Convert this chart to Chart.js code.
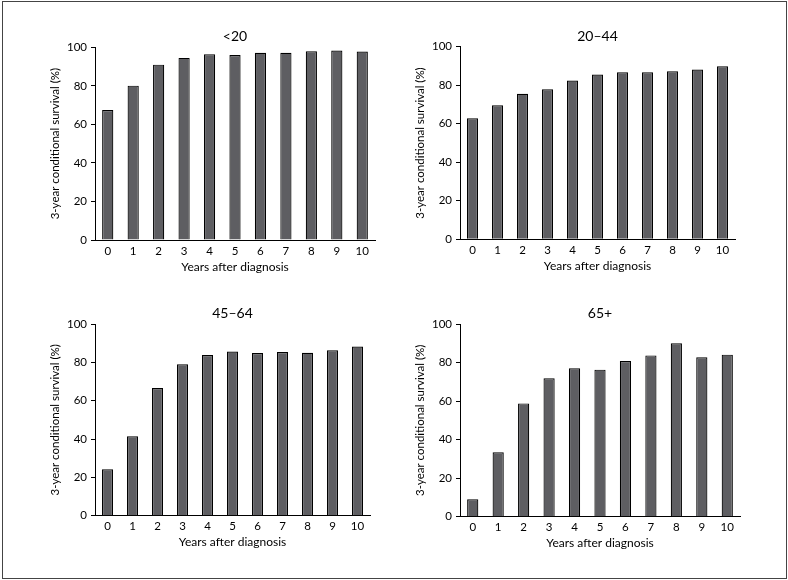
<!DOCTYPE html>
<html>
<head>
<meta charset="utf-8">
<script src="https://cdn.jsdelivr.net/npm/chart.js@4.4.1/dist/chart.umd.min.js"></script>
<style>
  html, body { margin: 0; padding: 0; background: #fff; }
  #wrap { position: relative; width: 788px; height: 580px; overflow: hidden; }
  #frame { position: absolute; left: 2px; top: 1px; width: 783px; height: 576px; border: 1px solid #444; }
  canvas { position: absolute; left: 0; top: 0; }
</style>
</head>
<body>
<div id="wrap">
  <div id="frame"></div>
  <canvas id="c0" width="788" height="580"></canvas>
  <canvas id="c1" width="788" height="580"></canvas>
  <canvas id="c2" width="788" height="580"></canvas>
  <canvas id="c3" width="788" height="580"></canvas>
</div>
<script>
// ---- data ----
const years = ['0', '1', '2', '3', '4', '5', '6', '7', '8', '9', '10'];
const ageGroups = ['<20', '20–44', '45–64', '65+'];
const survUnder20 = [67.5, 80.1, 91.0, 94.5, 96.4, 96.0, 97.2, 97.2, 97.9, 98.3, 97.8];
const surv20to44 = [62.8, 69.6, 75.6, 77.9, 82.4, 85.6, 86.7, 86.7, 87.2, 88.2, 89.8];
const surv45to64 = [24.2, 41.4, 66.6, 79.0, 83.8, 85.6, 84.9, 85.4, 85.0, 86.3, 88.2];
const surv65plus = [9.0, 33.4, 58.8, 71.8, 77.0, 76.3, 80.8, 83.7, 90.0, 82.7, 84.1];
const yTicks = [0, 20, 40, 60, 80, 100];
const xTitle = 'Years after diagnosis';
const yTitle = '3-year conditional survival (%)';

// ---- layout (plot areas in page pixels) ----
const W = 788, H = 580;
const areas = [
  { left: 95, top: 47.3, right: 375, bottom: 240 },
  { left: 460, top: 46.7, right: 735, bottom: 239.3 },
  { left: 95, top: 324, right: 370, bottom: 515.7 },
  { left: 460, top: 324, right: 740, bottom: 516.7 }
];
const seriesList = [survUnder20, surv20to44, surv45to64, surv65plus];

const FONT = 'Lato, "Open Sans", sans-serif';
const YAXIS_W = 47, XAXIS_H = 34;
const TITLE_SIZE = 14, TITLE_PAD_B = 2;
const titleH = TITLE_SIZE * 1.2 + TITLE_PAD_B;

seriesList.forEach((vals, i) => {
  const a = areas[i];
  new Chart(document.getElementById('c' + i), {
    type: 'bar',
    data: {
      labels: years,
      datasets: [{
        data: vals,
        backgroundColor: '#5e5e62',
        borderColor: '#000',
        borderWidth: 1.2,
        barPercentage: 0.44,
        categoryPercentage: 1.0
      }]
    },
    options: {
      responsive: false,
      animation: false,
      events: [],
      layout: {
        padding: {
          left: a.left - YAXIS_W,
          right: W - a.right,
          top: a.top - titleH,
          bottom: H - a.bottom - XAXIS_H
        }
      },
      plugins: {
        legend: { display: false },
        tooltip: { enabled: false },
        title: {
          display: true,
          text: ageGroups[i],
          fullSize: false,
          color: '#000',
          font: { family: FONT, size: TITLE_SIZE, weight: 'normal' },
          padding: { top: 0, bottom: TITLE_PAD_B }
        }
      },
      scales: {
        x: {
          offset: true,
          grid: { display: true, drawOnChartArea: false, drawTicks: false },
          border: { display: true, color: '#000', width: 1 },
          ticks: { color: '#000', padding: 4, font: { family: FONT, size: 11.5 }, maxRotation: 0 },
          title: { display: true, text: xTitle, color: '#000', padding: 0, font: { family: FONT, size: 12 } },
          afterFit: s => { s.height = XAXIS_H; }
        },
        y: {
          min: 0,
          max: 100,
          afterBuildTicks: s => { s.ticks = yTicks.map(v => ({ value: v })); },
          grid: { display: true, drawOnChartArea: false, drawTicks: true, tickLength: 4, color: '#000' },
          border: { display: true, color: '#000', width: 1 },
          ticks: { color: '#000', padding: 4, font: { family: FONT, size: 11.5 } },
          title: { display: true, text: yTitle, color: '#000', padding: 0, font: { family: FONT, size: 11.5 } },
          afterFit: s => { s.width = YAXIS_W; }
        }
      }
    }
  });
});
</script>
</body>
</html>
